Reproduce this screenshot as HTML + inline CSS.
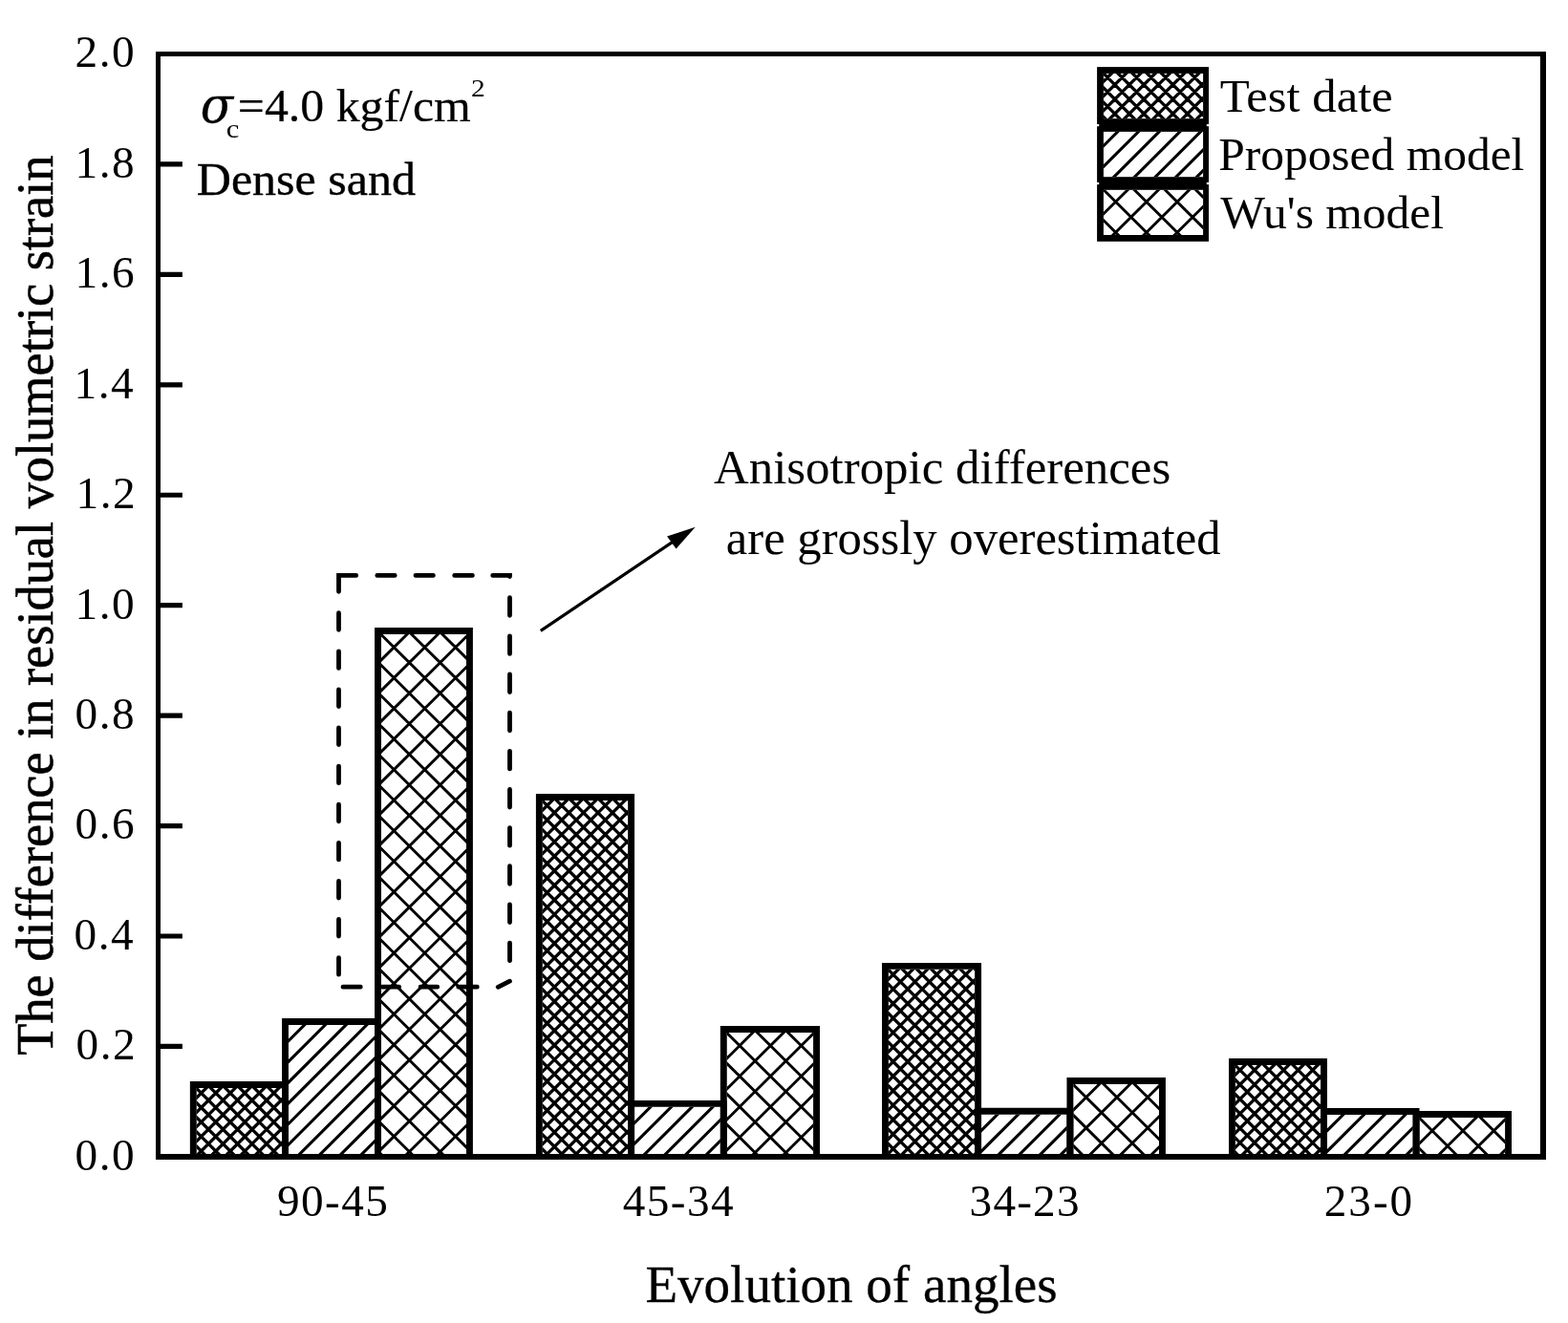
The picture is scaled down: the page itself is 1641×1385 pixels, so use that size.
<!DOCTYPE html>
<html><head><meta charset="utf-8"><title>Bar chart</title><style>html,body{margin:0;padding:0;background:#fff;}body{width:1641px;height:1385px;overflow:hidden;}svg{display:block;}</style></head><body><svg width="1641" height="1385" viewBox="0 0 1641 1385"><defs><clipPath id="c1"><rect x="205.75" y="1138.9" width="89.3" height="72"/></clipPath><clipPath id="c2"><rect x="301.95" y="1072.95" width="90.1" height="137.95"/></clipPath><clipPath id="c3"><rect x="398.95" y="663.9" width="89.05" height="547"/></clipPath><clipPath id="c4"><rect x="567.8" y="837.9" width="89.35" height="373"/></clipPath><clipPath id="c5"><rect x="664.05" y="1158.85" width="89.8" height="52.05"/></clipPath><clipPath id="c6"><rect x="760.75" y="1080.9" width="90.35" height="130"/></clipPath><clipPath id="c7"><rect x="929.9" y="1014.85" width="90.25" height="196.05"/></clipPath><clipPath id="c8"><rect x="1027.05" y="1166.75" width="89.4" height="44.15"/></clipPath><clipPath id="c9"><rect x="1123.35" y="1135" width="89.65" height="75.9"/></clipPath><clipPath id="c10"><rect x="1292.9" y="1114.9" width="89.15" height="96"/></clipPath><clipPath id="c11"><rect x="1388.95" y="1166.9" width="89.7" height="44"/></clipPath><clipPath id="c12"><rect x="1485.55" y="1170" width="89.55" height="40.9"/></clipPath><clipPath id="c13"><rect x="1154.9" y="76.95" width="104.2" height="47.25"/></clipPath><clipPath id="c14"><rect x="1154.9" y="137.9" width="104.2" height="47.3"/></clipPath><clipPath id="c15"><rect x="1154.9" y="198.8" width="104.2" height="47.2"/></clipPath></defs><rect width="1641" height="1385" fill="#fff"/><g clip-path="url(#c1)"><path d="M225.55 1098.9L73.55 1250.9M240.75 1098.9L88.75 1250.9M255.95 1098.9L103.95 1250.9M271.15 1098.9L119.15 1250.9M286.35 1098.9L134.35 1250.9M301.55 1098.9L149.55 1250.9M316.75 1098.9L164.75 1250.9M331.95 1098.9L179.95 1250.9M347.15 1098.9L195.15 1250.9M362.35 1098.9L210.35 1250.9M377.55 1098.9L225.55 1250.9M392.75 1098.9L240.75 1250.9M407.95 1098.9L255.95 1250.9M423.15 1098.9L271.15 1250.9M74.05 1098.9L226.05 1250.9M89.25 1098.9L241.25 1250.9M104.45 1098.9L256.45 1250.9M119.65 1098.9L271.65 1250.9M134.85 1098.9L286.85 1250.9M150.05 1098.9L302.05 1250.9M165.25 1098.9L317.25 1250.9M180.45 1098.9L332.45 1250.9M195.65 1098.9L347.65 1250.9M210.85 1098.9L362.85 1250.9M226.05 1098.9L378.05 1250.9M241.25 1098.9L393.25 1250.9M256.45 1098.9L408.45 1250.9M271.65 1098.9L423.65 1250.9" stroke="#000" stroke-width="3.3" fill="none"/></g><path d="M202.3 1210.9V1135.45H298.5V1210.9" fill="none" stroke="#000" stroke-width="6.9"/><g clip-path="url(#c2)"><path d="M315.25 1032.95L97.3 1250.9M336.95 1032.95L119 1250.9M358.65 1032.95L140.7 1250.9M380.35 1032.95L162.4 1250.9M402.05 1032.95L184.1 1250.9M423.75 1032.95L205.8 1250.9M445.45 1032.95L227.5 1250.9M467.15 1032.95L249.2 1250.9M488.85 1032.95L270.9 1250.9M510.55 1032.95L292.6 1250.9M532.25 1032.95L314.3 1250.9M553.95 1032.95L336 1250.9M575.65 1032.95L357.7 1250.9M597.35 1032.95L379.4 1250.9" stroke="#000" stroke-width="3.1" fill="none"/></g><path d="M298.5 1210.9V1069.5H395.5V1210.9" fill="none" stroke="#000" stroke-width="6.9"/><g clip-path="url(#c3)"><path d="M401.99 623.9L-228.93 1250.9M434.19 623.9L-196.73 1250.9M466.39 623.9L-164.53 1250.9M498.59 623.9L-132.33 1250.9M530.79 623.9L-100.13 1250.9M562.99 623.9L-67.93 1250.9M595.19 623.9L-35.73 1250.9M627.39 623.9L-3.53 1250.9M659.59 623.9L28.67 1250.9M691.79 623.9L60.87 1250.9M723.99 623.9L93.07 1250.9M756.19 623.9L125.27 1250.9M788.39 623.9L157.47 1250.9M820.59 623.9L189.67 1250.9M852.79 623.9L221.87 1250.9M884.99 623.9L254.07 1250.9M917.19 623.9L286.27 1250.9M949.39 623.9L318.47 1250.9M981.59 623.9L350.67 1250.9M1013.79 623.9L382.87 1250.9M1045.99 623.9L415.07 1250.9M1078.19 623.9L447.27 1250.9M1110.39 623.9L479.47 1250.9M1142.59 623.9L511.67 1250.9M-253.59 623.9L377.33 1250.9M-221.39 623.9L409.53 1250.9M-189.19 623.9L441.73 1250.9M-156.99 623.9L473.93 1250.9M-124.79 623.9L506.13 1250.9M-92.59 623.9L538.33 1250.9M-60.39 623.9L570.53 1250.9M-28.19 623.9L602.73 1250.9M4.01 623.9L634.93 1250.9M36.21 623.9L667.13 1250.9M68.41 623.9L699.33 1250.9M100.61 623.9L731.53 1250.9M132.81 623.9L763.73 1250.9M165.01 623.9L795.93 1250.9M197.21 623.9L828.13 1250.9M229.41 623.9L860.33 1250.9M261.61 623.9L892.53 1250.9M293.81 623.9L924.73 1250.9M326.01 623.9L956.93 1250.9M358.21 623.9L989.13 1250.9M390.41 623.9L1021.33 1250.9M422.61 623.9L1053.53 1250.9M454.81 623.9L1085.73 1250.9M487.01 623.9L1117.93 1250.9" stroke="#000" stroke-width="2.9" fill="none"/></g><path d="M395.5 1210.9V660.45H491.45V1210.9" fill="none" stroke="#000" stroke-width="6.9"/><g clip-path="url(#c4)"><path d="M587.6 797.9L134.6 1250.9M602.8 797.9L149.8 1250.9M618 797.9L165 1250.9M633.2 797.9L180.2 1250.9M648.4 797.9L195.4 1250.9M663.6 797.9L210.6 1250.9M678.8 797.9L225.8 1250.9M694 797.9L241 1250.9M709.2 797.9L256.2 1250.9M724.4 797.9L271.4 1250.9M739.6 797.9L286.6 1250.9M754.8 797.9L301.8 1250.9M770 797.9L317 1250.9M785.2 797.9L332.2 1250.9M800.4 797.9L347.4 1250.9M815.6 797.9L362.6 1250.9M830.8 797.9L377.8 1250.9M846 797.9L393 1250.9M861.2 797.9L408.2 1250.9M876.4 797.9L423.4 1250.9M891.6 797.9L438.6 1250.9M906.8 797.9L453.8 1250.9M922 797.9L469 1250.9M937.2 797.9L484.2 1250.9M952.4 797.9L499.4 1250.9M967.6 797.9L514.6 1250.9M982.8 797.9L529.8 1250.9M998 797.9L545 1250.9M1013.2 797.9L560.2 1250.9M1028.4 797.9L575.4 1250.9M1043.6 797.9L590.6 1250.9M1058.8 797.9L605.8 1250.9M1074 797.9L621 1250.9M1089.2 797.9L636.2 1250.9M132.1 797.9L585.1 1250.9M147.3 797.9L600.3 1250.9M162.5 797.9L615.5 1250.9M177.7 797.9L630.7 1250.9M192.9 797.9L645.9 1250.9M208.1 797.9L661.1 1250.9M223.3 797.9L676.3 1250.9M238.5 797.9L691.5 1250.9M253.7 797.9L706.7 1250.9M268.9 797.9L721.9 1250.9M284.1 797.9L737.1 1250.9M299.3 797.9L752.3 1250.9M314.5 797.9L767.5 1250.9M329.7 797.9L782.7 1250.9M344.9 797.9L797.9 1250.9M360.1 797.9L813.1 1250.9M375.3 797.9L828.3 1250.9M390.5 797.9L843.5 1250.9M405.7 797.9L858.7 1250.9M420.9 797.9L873.9 1250.9M436.1 797.9L889.1 1250.9M451.3 797.9L904.3 1250.9M466.5 797.9L919.5 1250.9M481.7 797.9L934.7 1250.9M496.9 797.9L949.9 1250.9M512.1 797.9L965.1 1250.9M527.3 797.9L980.3 1250.9M542.5 797.9L995.5 1250.9M557.7 797.9L1010.7 1250.9M572.9 797.9L1025.9 1250.9M588.1 797.9L1041.1 1250.9M603.3 797.9L1056.3 1250.9M618.5 797.9L1071.5 1250.9M633.7 797.9L1086.7 1250.9" stroke="#000" stroke-width="3.3" fill="none"/></g><path d="M564.35 1210.9V834.45H660.6V1210.9" fill="none" stroke="#000" stroke-width="6.9"/><g clip-path="url(#c5)"><path d="M677.35 1118.85L545.3 1250.9M699.05 1118.85L567 1250.9M720.75 1118.85L588.7 1250.9M742.45 1118.85L610.4 1250.9M764.15 1118.85L632.1 1250.9M785.85 1118.85L653.8 1250.9M807.55 1118.85L675.5 1250.9M829.25 1118.85L697.2 1250.9M850.95 1118.85L718.9 1250.9M872.65 1118.85L740.6 1250.9" stroke="#000" stroke-width="3.1" fill="none"/></g><path d="M660.6 1210.9V1155.4H757.3V1210.9" fill="none" stroke="#000" stroke-width="6.9"/><g clip-path="url(#c6)"><path d="M763.79 1040.9L552.47 1250.9M795.99 1040.9L584.67 1250.9M828.19 1040.9L616.87 1250.9M860.39 1040.9L649.07 1250.9M892.59 1040.9L681.27 1250.9M924.79 1040.9L713.47 1250.9M956.99 1040.9L745.67 1250.9M989.19 1040.9L777.87 1250.9M1021.39 1040.9L810.07 1250.9M1053.59 1040.9L842.27 1250.9M1085.79 1040.9L874.47 1250.9M526.81 1040.9L738.13 1250.9M559.01 1040.9L770.33 1250.9M591.21 1040.9L802.53 1250.9M623.41 1040.9L834.73 1250.9M655.61 1040.9L866.93 1250.9M687.81 1040.9L899.13 1250.9M720.01 1040.9L931.33 1250.9M752.21 1040.9L963.53 1250.9M784.41 1040.9L995.73 1250.9M816.61 1040.9L1027.93 1250.9M848.81 1040.9L1060.13 1250.9" stroke="#000" stroke-width="2.9" fill="none"/></g><path d="M757.3 1210.9V1077.45H854.55V1210.9" fill="none" stroke="#000" stroke-width="6.9"/><g clip-path="url(#c7)"><path d="M949.7 974.85L673.65 1250.9M964.9 974.85L688.85 1250.9M980.1 974.85L704.05 1250.9M995.3 974.85L719.25 1250.9M1010.5 974.85L734.45 1250.9M1025.7 974.85L749.65 1250.9M1040.9 974.85L764.85 1250.9M1056.1 974.85L780.05 1250.9M1071.3 974.85L795.25 1250.9M1086.5 974.85L810.45 1250.9M1101.7 974.85L825.65 1250.9M1116.9 974.85L840.85 1250.9M1132.1 974.85L856.05 1250.9M1147.3 974.85L871.25 1250.9M1162.5 974.85L886.45 1250.9M1177.7 974.85L901.65 1250.9M1192.9 974.85L916.85 1250.9M1208.1 974.85L932.05 1250.9M1223.3 974.85L947.25 1250.9M1238.5 974.85L962.45 1250.9M1253.7 974.85L977.65 1250.9M1268.9 974.85L992.85 1250.9M1284.1 974.85L1008.05 1250.9M676.6 974.85L952.65 1250.9M691.8 974.85L967.85 1250.9M707 974.85L983.05 1250.9M722.2 974.85L998.25 1250.9M737.4 974.85L1013.45 1250.9M752.6 974.85L1028.65 1250.9M767.8 974.85L1043.85 1250.9M783 974.85L1059.05 1250.9M798.2 974.85L1074.25 1250.9M813.4 974.85L1089.45 1250.9M828.6 974.85L1104.65 1250.9M843.8 974.85L1119.85 1250.9M859 974.85L1135.05 1250.9M874.2 974.85L1150.25 1250.9M889.4 974.85L1165.45 1250.9M904.6 974.85L1180.65 1250.9M919.8 974.85L1195.85 1250.9M935 974.85L1211.05 1250.9M950.2 974.85L1226.25 1250.9M965.4 974.85L1241.45 1250.9M980.6 974.85L1256.65 1250.9M995.8 974.85L1271.85 1250.9" stroke="#000" stroke-width="3.3" fill="none"/></g><path d="M926.45 1210.9V1011.4H1023.6V1210.9" fill="none" stroke="#000" stroke-width="6.9"/><g clip-path="url(#c8)"><path d="M1040.35 1126.75L916.2 1250.9M1062.05 1126.75L937.9 1250.9M1083.75 1126.75L959.6 1250.9M1105.45 1126.75L981.3 1250.9M1127.15 1126.75L1003 1250.9M1148.85 1126.75L1024.7 1250.9M1170.55 1126.75L1046.4 1250.9M1192.25 1126.75L1068.1 1250.9M1213.95 1126.75L1089.8 1250.9M1235.65 1126.75L1111.5 1250.9" stroke="#000" stroke-width="3.1" fill="none"/></g><path d="M1023.6 1210.9V1163.3H1119.9V1210.9" fill="none" stroke="#000" stroke-width="6.9"/><g clip-path="url(#c9)"><path d="M1126.39 1095L969.51 1250.9M1158.59 1095L1001.71 1250.9M1190.79 1095L1033.91 1250.9M1222.99 1095L1066.11 1250.9M1255.19 1095L1098.31 1250.9M1287.39 1095L1130.51 1250.9M1319.59 1095L1162.71 1250.9M1351.79 1095L1194.91 1250.9M1383.99 1095L1227.11 1250.9M953.81 1095L1110.69 1250.9M986.01 1095L1142.89 1250.9M1018.21 1095L1175.09 1250.9M1050.41 1095L1207.29 1250.9M1082.61 1095L1239.49 1250.9M1114.81 1095L1271.69 1250.9M1147.01 1095L1303.89 1250.9M1179.21 1095L1336.09 1250.9M1211.41 1095L1368.29 1250.9" stroke="#000" stroke-width="2.9" fill="none"/></g><path d="M1119.9 1210.9V1131.55H1216.45V1210.9" fill="none" stroke="#000" stroke-width="6.9"/><g clip-path="url(#c10)"><path d="M1312.7 1074.9L1136.7 1250.9M1327.9 1074.9L1151.9 1250.9M1343.1 1074.9L1167.1 1250.9M1358.3 1074.9L1182.3 1250.9M1373.5 1074.9L1197.5 1250.9M1388.7 1074.9L1212.7 1250.9M1403.9 1074.9L1227.9 1250.9M1419.1 1074.9L1243.1 1250.9M1434.3 1074.9L1258.3 1250.9M1449.5 1074.9L1273.5 1250.9M1464.7 1074.9L1288.7 1250.9M1479.9 1074.9L1303.9 1250.9M1495.1 1074.9L1319.1 1250.9M1510.3 1074.9L1334.3 1250.9M1525.5 1074.9L1349.5 1250.9M1540.7 1074.9L1364.7 1250.9M1130.8 1074.9L1306.8 1250.9M1146 1074.9L1322 1250.9M1161.2 1074.9L1337.2 1250.9M1176.4 1074.9L1352.4 1250.9M1191.6 1074.9L1367.6 1250.9M1206.8 1074.9L1382.8 1250.9M1222 1074.9L1398 1250.9M1237.2 1074.9L1413.2 1250.9M1252.4 1074.9L1428.4 1250.9M1267.6 1074.9L1443.6 1250.9M1282.8 1074.9L1458.8 1250.9M1298 1074.9L1474 1250.9M1313.2 1074.9L1489.2 1250.9M1328.4 1074.9L1504.4 1250.9M1343.6 1074.9L1519.6 1250.9M1358.8 1074.9L1534.8 1250.9" stroke="#000" stroke-width="3.3" fill="none"/></g><path d="M1289.45 1210.9V1111.45H1385.5V1210.9" fill="none" stroke="#000" stroke-width="6.9"/><g clip-path="url(#c11)"><path d="M1402.25 1126.9L1278.25 1250.9M1423.95 1126.9L1299.95 1250.9M1445.65 1126.9L1321.65 1250.9M1467.35 1126.9L1343.35 1250.9M1489.05 1126.9L1365.05 1250.9M1510.75 1126.9L1386.75 1250.9M1532.45 1126.9L1408.45 1250.9M1554.15 1126.9L1430.15 1250.9M1575.85 1126.9L1451.85 1250.9M1597.55 1126.9L1473.55 1250.9" stroke="#000" stroke-width="3.1" fill="none"/></g><path d="M1385.5 1210.9V1163.45H1482.1V1210.9" fill="none" stroke="#000" stroke-width="6.9"/><g clip-path="url(#c12)"><path d="M1488.59 1130L1366.93 1250.9M1520.79 1130L1399.13 1250.9M1552.99 1130L1431.33 1250.9M1585.19 1130L1463.53 1250.9M1617.39 1130L1495.73 1250.9M1649.59 1130L1527.93 1250.9M1681.79 1130L1560.13 1250.9M1713.99 1130L1592.33 1250.9M1348.21 1130L1469.87 1250.9M1380.41 1130L1502.07 1250.9M1412.61 1130L1534.27 1250.9M1444.81 1130L1566.47 1250.9M1477.01 1130L1598.67 1250.9M1509.21 1130L1630.87 1250.9M1541.41 1130L1663.07 1250.9M1573.61 1130L1695.27 1250.9" stroke="#000" stroke-width="2.9" fill="none"/></g><path d="M1482.1 1210.9V1166.55H1578.55V1210.9" fill="none" stroke="#000" stroke-width="6.9"/><path d="M354.5 619.3V602.4H372.7M394.8 602.4H413.2M435 602.4H453.4M475.7 602.4H494.4M515.7 602.4H533.5V603.6M533.5 625.7V644.3M533.5 665.85V684.45M533.5 706V724.6M533.5 746.15V764.75M533.5 786.3V804.9M533.5 826.45V845.05M533.5 866.6V885.2M533.5 906.75V925.35M533.5 946.9V965.5M533.5 987.05V1005.65M533.5 1027.2V1027.2L521.2 1033.3M479.8 1033.2H499.3M440.1 1033.2H457.7M399.9 1033.2H417.6M359 1033.2H377.3M354.5 1002.6V1020.2M354.5 962.5V980.1M354.5 922.4V940M354.5 882.3V899.9M354.5 842.2V859.8M354.5 802.1V819.7M354.5 762V779.6M354.5 721.9V739.5M354.5 681.8V699.4M354.5 641.7V659.3" stroke="#000" stroke-width="4.8" fill="none" stroke-linecap="round" stroke-linejoin="miter"/><path d="M565.8 660.4L705 566.6" stroke="#000" stroke-width="3.1" fill="none"/><path d="M727.7 551.7L698.1 561.4L707.6 574.5Z" fill="#000"/><path d="M165.5 1095.46H190.9M165.5 980.02H190.9M165.5 864.58H190.9M165.5 749.14H190.9M165.5 633.7H190.9M165.5 518.26H190.9M165.5 402.82H190.9M165.5 287.38H190.9M165.5 171.94H190.9" stroke="#000" stroke-width="5.2" fill="none"/><path fill-rule="evenodd" fill="#000" d="M163 54H1618V1213.9H163Z M168 58.95V1207.9H1611.9V58.95Z"/><rect x="1148.1" y="70.1" width="116.9" height="182.7" fill="#000"/><rect x="1154.9" y="76.95" width="104.2" height="47.25" fill="#fff"/><g clip-path="url(#c13)"><path d="M1172.85 36.95L1045.6 164.2M1188.05 36.95L1060.8 164.2M1203.25 36.95L1076 164.2M1218.45 36.95L1091.2 164.2M1233.65 36.95L1106.4 164.2M1248.85 36.95L1121.6 164.2M1264.05 36.95L1136.8 164.2M1279.25 36.95L1152 164.2M1294.45 36.95L1167.2 164.2M1309.65 36.95L1182.4 164.2M1324.85 36.95L1197.6 164.2M1340.05 36.95L1212.8 164.2M1355.25 36.95L1228 164.2M1370.45 36.95L1243.2 164.2M1038.95 36.95L1166.2 164.2M1054.15 36.95L1181.4 164.2M1069.35 36.95L1196.6 164.2M1084.55 36.95L1211.8 164.2M1099.75 36.95L1227 164.2M1114.95 36.95L1242.2 164.2M1130.15 36.95L1257.4 164.2M1145.35 36.95L1272.6 164.2M1160.55 36.95L1287.8 164.2M1175.75 36.95L1303 164.2M1190.95 36.95L1318.2 164.2M1206.15 36.95L1333.4 164.2M1221.35 36.95L1348.6 164.2M1236.55 36.95L1363.8 164.2" stroke="#000" stroke-width="3.3" fill="none"/></g><rect x="1154.9" y="137.9" width="104.2" height="47.3" fill="#fff"/><g clip-path="url(#c14)"><path d="M1166.3 97.9L1039 225.2M1188 97.9L1060.7 225.2M1209.7 97.9L1082.4 225.2M1231.4 97.9L1104.1 225.2M1253.1 97.9L1125.8 225.2M1274.8 97.9L1147.5 225.2M1296.5 97.9L1169.2 225.2M1318.2 97.9L1190.9 225.2M1339.9 97.9L1212.6 225.2M1361.6 97.9L1234.3 225.2M1383.3 97.9L1256 225.2" stroke="#000" stroke-width="3.1" fill="none"/></g><rect x="1154.9" y="198.8" width="104.2" height="47.2" fill="#fff"/><g clip-path="url(#c15)"><path d="M1156.03 158.8L1028.03 286M1188.23 158.8L1060.23 286M1220.43 158.8L1092.43 286M1252.63 158.8L1124.63 286M1284.83 158.8L1156.83 286M1317.03 158.8L1189.03 286M1349.23 158.8L1221.23 286M1381.43 158.8L1253.43 286M1018.17 158.8L1146.17 286M1050.37 158.8L1178.37 286M1082.57 158.8L1210.57 286M1114.77 158.8L1242.77 286M1146.97 158.8L1274.97 286M1179.17 158.8L1307.17 286M1211.37 158.8L1339.37 286M1243.57 158.8L1371.57 286M1275.77 158.8L1403.77 286" stroke="#000" stroke-width="2.9" fill="none"/></g><rect x="1148" y="129.95" width="2.2" height="2.3" fill="#fff"/><rect x="1262.8" y="129.95" width="2.4" height="2.3" fill="#fff"/><rect x="1148" y="190.85" width="2.2" height="2.3" fill="#fff"/><rect x="1262.8" y="190.85" width="2.4" height="2.3" fill="#fff"/><g font-family='"Liberation Serif", "Times New Roman", serif' fill="#000"><text transform="translate(78.4 1224.7) scale(1 1)" font-size="47.3" letter-spacing="1.6">0.0</text><text transform="translate(79.4 1109.26) scale(1 1)" font-size="47.3" letter-spacing="1.6">0.2</text><text transform="translate(77.4 993.82) scale(1 1)" font-size="47.3" letter-spacing="1.6">0.4</text><text transform="translate(78.4 878.38) scale(1 1)" font-size="47.3" letter-spacing="1.6">0.6</text><text transform="translate(78.4 762.94) scale(1 1)" font-size="47.3" letter-spacing="1.6">0.8</text><text transform="translate(78.4 647.5) scale(1 1)" font-size="47.3" letter-spacing="1.6">1.0</text><text transform="translate(79.4 532.06) scale(1 1)" font-size="47.3" letter-spacing="1.6">1.2</text><text transform="translate(77.4 416.62) scale(1 1)" font-size="47.3" letter-spacing="1.6">1.4</text><text transform="translate(78.4 301.18) scale(1 1)" font-size="47.3" letter-spacing="1.6">1.6</text><text transform="translate(78.4 185.74) scale(1 1)" font-size="47.3" letter-spacing="1.6">1.8</text><text transform="translate(78.4 70.3) scale(1 1)" font-size="47.3" letter-spacing="1.6">2.0</text><text transform="translate(290.1 1272.7) scale(1 1)" font-size="47.2" letter-spacing="1.4">90-45</text><text transform="translate(651.85 1272.7) scale(1 1)" font-size="47.2" letter-spacing="1.4">45-34</text><text transform="translate(1014.6 1272.7) scale(1 1)" font-size="47.2" letter-spacing="1.2">34-23</text><text transform="translate(1385.7 1272.7) scale(1 1)" font-size="47.2" letter-spacing="2">23-0</text><text transform="translate(675.391 1363.1) scale(1.005 1)" font-size="54.8" stroke="#000" stroke-width="0.3" stroke-linejoin="round">Evolution of angles</text><text transform="translate(54.9 1104.794) rotate(-90) scale(0.994 1)" font-size="54.7" stroke="#000" stroke-width="0.6" stroke-linejoin="round">The difference in residual volumetric strain</text><text transform="translate(1276.843 117.2) scale(1.057 1)" font-size="48">Test date</text><text transform="translate(1275.169 178) scale(1.031 1)" font-size="48">Proposed model</text><text transform="translate(1277.3 238.8) scale(1.031 1)" font-size="48">Wu's model</text><text transform="translate(209.747 127.6) scale(0.976 1)" font-size="51.5" font-style="italic" font-family='"DejaVu Serif", serif' stroke="#000" stroke-width="0.3" stroke-linejoin="round">&#963;</text><text transform="translate(236.68 143.7) scale(1.12 1)" font-size="27.4">c</text><text transform="translate(248.831 126.8) scale(1.034 1)" font-size="48.2" stroke="#000" stroke-width="0.2" stroke-linejoin="round">=4.0 kgf/cm</text><text transform="translate(493.03 101.2) scale(1.17 1)" font-size="25.1">2</text><text transform="translate(205.773 203.9) scale(1.027 1)" font-size="48.7" stroke="#000" stroke-width="0.4" stroke-linejoin="round">Dense sand</text><text transform="translate(746.913 506) scale(0.987 1)" font-size="51.6">Anisotropic differences</text><text transform="translate(759.837 580.2) scale(0.982 1)" font-size="51.6">are grossly overestimated</text></g></svg></body></html>
